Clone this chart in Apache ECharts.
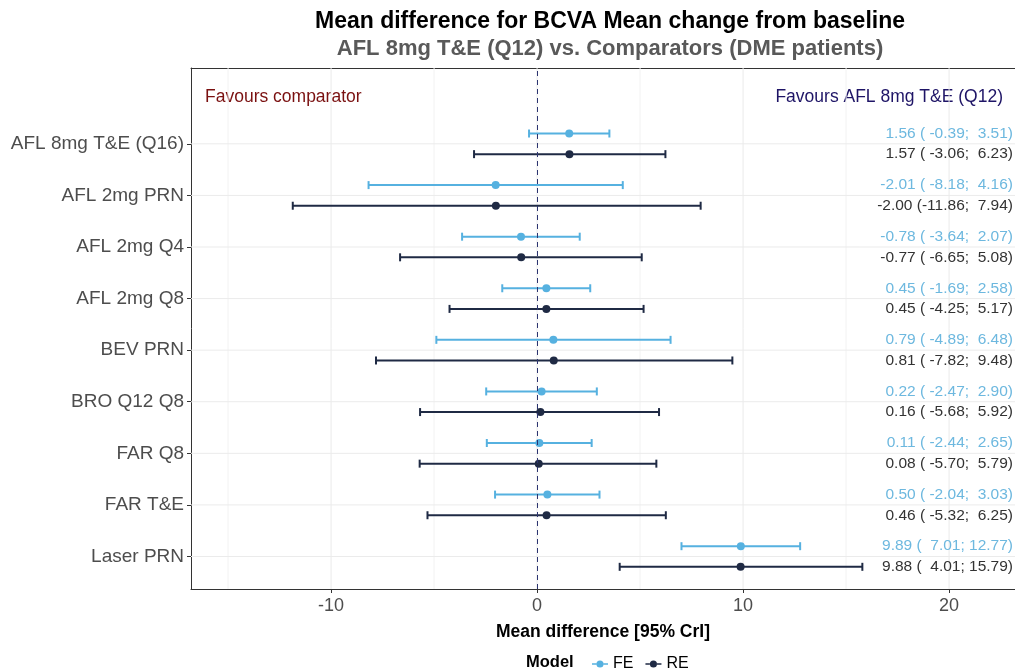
<!DOCTYPE html>
<html>
<head>
<meta charset="utf-8">
<script src="https://cdn.jsdelivr.net/npm/echarts@6/dist/echarts.min.js"></script>
<style>
  html, body { margin: 0; padding: 0; background: #fff; }
  #chart { width: 1015px; height: 672px; }
</style>
</head>
<body>
<div id="chart"></div>
<script>
// comparators, top to bottom
var categories = ['AFL 8mg T&E (Q16)', 'AFL 2mg PRN', 'AFL 2mg Q4', 'AFL 2mg Q8', 'BEV PRN',
                  'BRO Q12 Q8', 'FAR Q8', 'FAR T&E', 'Laser PRN'];

// fixed effect model
var feMean  = [1.56, -2.01, -0.78, 0.45, 0.79, 0.22, 0.11, 0.50, 9.89];
var feLower = [-0.39, -8.18, -3.64, -1.69, -4.89, -2.47, -2.44, -2.04, 7.01];
var feUpper = [3.51, 4.16, 2.07, 2.58, 6.48, 2.90, 2.65, 3.03, 12.77];

// random effects model
var reMean  = [1.57, -2.00, -0.77, 0.45, 0.81, 0.16, 0.08, 0.46, 9.88];
var reLower = [-3.06, -11.86, -6.65, -4.25, -7.82, -5.68, -5.70, -5.32, 4.01];
var reUpper = [6.23, 7.94, 5.08, 5.17, 9.48, 5.92, 5.79, 6.25, 15.79];

var xTicks = [-10, 0, 10, 20];
var xMinor = [-15, -5, 5, 15];

var FE_COL = '#56B1E0';
var RE_COL = '#1F2A44';
var FONT = '"Liberation Sans", Arial, sans-serif';

var chart = echarts.init(document.getElementById('chart'));

function fmt(v) { return v.toFixed(2); }
function pad(s, n) { while (s.length < n) s = ' ' + s; return s; }

// y position of a category (top row gets the highest value)
function rowPos(i) { return categories.length - i; }

function buildData(mean, lower, upper, offset) {
    return mean.map(function (m, i) {
        return [m, lower[i], upper[i], rowPos(i) + offset];
    });
}

function errorBar(textColor) {
    return function (params, api) {
        var mean = api.value(0), lo = api.value(1), hi = api.value(2), y = api.value(3);
        var pL = api.coord([lo, y]), pH = api.coord([hi, y]), pM = api.coord([mean, y]);
        var col = api.visual('color');
        var cap = 4;
        var txt = fmt(mean) + ' (' + pad(fmt(lo), 6) + '; ' + pad(fmt(hi), 5) + ')';
        return {
            type: 'group',
            children: [
                { type: 'line', shape: { x1: pL[0], y1: pL[1], x2: pH[0], y2: pH[1] }, style: { stroke: col, lineWidth: 2 } },
                { type: 'line', shape: { x1: pL[0], y1: pL[1] - cap, x2: pL[0], y2: pL[1] + cap }, style: { stroke: col, lineWidth: 2 } },
                { type: 'line', shape: { x1: pH[0], y1: pH[1] - cap, x2: pH[0], y2: pH[1] + cap }, style: { stroke: col, lineWidth: 2 } },
                { type: 'circle', shape: { cx: pM[0], cy: pM[1], r: 4 }, style: { fill: col } },
                { type: 'text', x: api.getWidth() - 2, y: pM[1], style: {
                    text: txt, fill: textColor, font: '15.5px ' + FONT,
                    align: 'right', verticalAlign: 'middle' } }
            ]
        };
    };
}

function vLines(color) {
    return function (params, api) {
        var cs = params.coordSys;
        var p = api.coord([api.value(0), 1]);
        return { type: 'line', shape: { x1: p[0], y1: cs.y, x2: p[0], y2: cs.y + cs.height },
                 style: { stroke: color, lineWidth: 1 }, silent: true };
    };
}

function hLines(params, api) {
    var cs = params.coordSys;
    var p = api.coord([0, api.value(0)]);
    return { type: 'line', shape: { x1: cs.x, y1: p[1], x2: cs.x + cs.width, y2: p[1] },
             style: { stroke: '#EBEBEB', lineWidth: 1 }, silent: true };
}

var legendIcon = 'path://M0,4.2H5V5.8H0Z M13,4.2H18V5.8H13Z M5,5a4,4 0 1,0 8,0a4,4 0 1,0 -8,0Z';

var option = {
    backgroundColor: '#fff',
    textStyle: { fontFamily: FONT },
    title: {
        text: 'Mean difference for BCVA Mean change from baseline',
        subtext: 'AFL 8mg T&E (Q12) vs. Comparators (DME patients)',
        left: 605, top: 5, textAlign: 'center', itemGap: 5,
        textStyle: { fontSize: 23, fontWeight: 'bold', color: '#000' },
        subtextStyle: { fontSize: 22, fontWeight: 'bold', color: '#595959' }
    },
    legend: {
        data: ['FE', 'RE'],
        left: 587, top: 651,
        icon: legendIcon, itemWidth: 16, itemHeight: 9, itemGap: 12,
        textStyle: { fontSize: 16, color: '#000' }
    },
    graphic: [
        { type: 'text', left: 526, top: 654, style: { text: 'Model', font: 'bold 16.5px ' + FONT, fill: '#000' } },
        { type: 'text', left: 205, top: 88, style: { text: 'Favours comparator', font: '17.5px ' + FONT, fill: '#7A1010' } },
        { type: 'text', right: 12, top: 88, style: { text: 'Favours AFL 8mg T&E (Q12)', font: '17.5px ' + FONT, fill: '#1E1466' } }
    ],
    grid: {
        left: 191, right: 0, top: 68, bottom: 83,
        show: false
    },
    xAxis: [{
        type: 'value', min: -16.8, max: 23.2,
        name: 'Mean difference [95% CrI]', nameLocation: 'middle', nameGap: 34,
        nameTextStyle: { fontSize: 17.5, fontWeight: 'bold', color: '#000' },
        axisLine: { show: true, onZero: false, lineStyle: { color: '#333' } },
        axisTick: { show: true, customValues: xTicks, length: 4, lineStyle: { color: '#333' } },
        axisLabel: { customValues: xTicks, fontSize: 18, color: '#4D4D4D', margin: 8 },
        splitLine: { show: false }
    }, {
        // top edge of the panel
        type: 'value', position: 'top', min: -16.8, max: 23.2,
        axisLine: { show: true, onZero: false, lineStyle: { color: '#333' } },
        axisTick: { show: false }, axisLabel: { show: false }, splitLine: { show: false }
    }],
    yAxis: {
        type: 'value', min: 0.37, max: 10.47,
        axisLine: { show: true, onZero: false, lineStyle: { color: '#333' } },
        axisTick: { show: true, customValues: categories.map(function (c, i) { return rowPos(i); }), length: 4, lineStyle: { color: '#333' } },
        axisLabel: {
            customValues: categories.map(function (c, i) { return rowPos(i); }),
            fontSize: 19, color: '#4D4D4D', margin: 7,
            formatter: function (v) { return categories[categories.length - Math.round(v)]; }
        },
        splitLine: { show: false }
    },
    series: [
        { name: 'minorX', type: 'custom', renderItem: vLines('#F3F3F3'), data: xMinor.map(function (v) { return [v]; }),
          encode: { x: 0 }, silent: true, z: 1 },
        { name: 'majorX', type: 'custom', renderItem: vLines('#EBEBEB'), data: xTicks.map(function (v) { return [v]; }),
          encode: { x: 0 }, silent: true, z: 1 },
        { name: 'majorY', type: 'custom', renderItem: hLines, data: categories.map(function (c, i) { return [rowPos(i)]; }),
          encode: { y: 0 }, silent: true, z: 1 },
        {
            name: 'FE', type: 'custom', renderItem: errorBar('#6DB8DF'),
            itemStyle: { color: FE_COL },
            data: buildData(feMean, feLower, feUpper, 0.2),
            encode: { x: [0, 1, 2], y: 3 }, z: 3,
            markLine: {
                silent: true, symbol: 'none', label: { show: false },
                lineStyle: { type: [5, 4], color: '#2C3470', width: 1 },
                data: [{ xAxis: 0 }]
            }
        },
        {
            name: 'RE', type: 'custom', renderItem: errorBar('#333333'),
            itemStyle: { color: RE_COL },
            data: buildData(reMean, reLower, reUpper, -0.2),
            encode: { x: [0, 1, 2], y: 3 }, z: 3
        }
    ]
};

chart.setOption(option);
</script>
</body>
</html>
